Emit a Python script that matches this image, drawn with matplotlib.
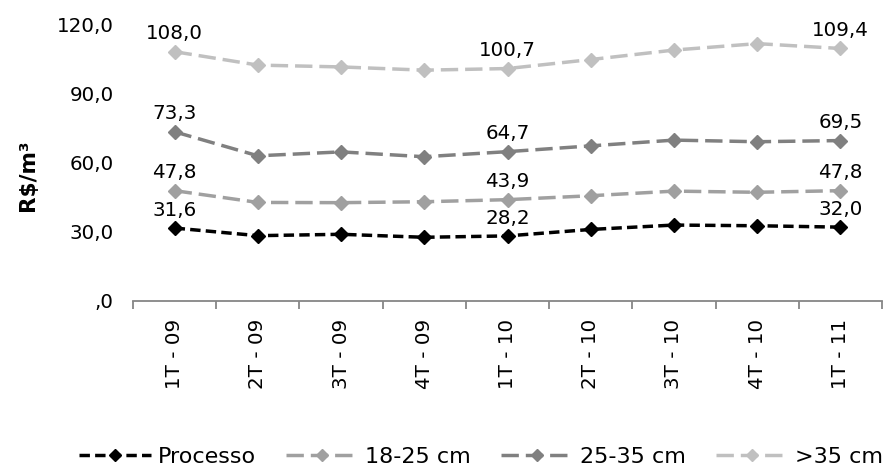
import matplotlib
matplotlib.use("Agg")
import matplotlib.pyplot as plt
from matplotlib.ticker import FuncFormatter

plt.rcParams['font.family'] = ['DejaVu Sans']

quarters = ["1T - 09", "2T - 09", "3T - 09", "4T - 09", "1T - 10",
            "2T - 10", "3T - 10", "4T - 10", "1T - 11"]
processo = [31.6, 28.3, 28.9, 27.6, 28.2, 31.0, 32.9, 32.6, 32.0]
cm_18_25 = [47.8, 42.7, 42.6, 43.0, 43.9, 45.6, 47.6, 47.1, 47.8]
cm_25_35 = [73.3, 62.9, 64.6, 62.5, 64.7, 67.2, 69.7, 69.0, 69.5]
cm_35 = [108.0, 102.2, 101.4, 100.0, 100.7, 104.6, 108.7, 111.5, 109.4]
series_names = ["Processo", "18-25 cm", "25-35 cm", ">35 cm"]
labelled_idx = [0, 4, 8]

series = [processo, cm_18_25, cm_25_35, cm_35]
colors = ["#000000", "#A0A0A0", "#808080", "#C0C0C0"]
dashes = [(3, 1.5), (5, 2.0), (5, 2.0), (5, 2.0)]

FS = 14.3
W, H = 884, 469
fig = plt.figure(figsize=(W / 100, H / 100), dpi=100)
ax = fig.add_axes([133 / W, 1 - 301 / H, (882 - 133) / W, (301 - 24) / H])

x = list(range(len(quarters)))
for vals, name, col, dsh in zip(series, series_names, colors, dashes):
    ax.plot(x, vals, color=col, linestyle=(0, dsh), linewidth=2.5,
            marker="D", markersize=7.5, markeredgecolor=col,
            markerfacecolor=col, label=name)
    for i in labelled_idx:
        ax.annotate(f"{vals[i]:.1f}".replace(".", ","), (i, vals[i]),
                    xytext=(0, 6), textcoords="offset points",
                    ha="center", va="bottom", fontsize=FS, color="#000000")

ax.set_xlim(-0.5, len(quarters) - 0.5)
ax.set_ylim(0, 120)
ax.set_yticks([0, 30, 60, 90, 120])
ax.yaxis.set_major_formatter(FuncFormatter(
    lambda v, p: ",0" if v == 0 else f"{v:.1f}".replace(".", ",")))
ax.tick_params(axis="y", length=0, pad=14, labelsize=FS)

ax.set_xticks(x)
ax.set_xticklabels(quarters, rotation=90, fontsize=FS)
ax.set_xticks([i - 0.5 for i in range(len(quarters) + 1)], minor=True)
ax.tick_params(axis="x", which="major", length=0, pad=13)
ax.tick_params(axis="x", which="minor", length=6, width=1.3, color="#868686")

for s in ["top", "right", "left"]:
    ax.spines[s].set_visible(False)
ax.spines["bottom"].set_color("#868686")
ax.spines["bottom"].set_linewidth(1.3)

fig.text(28 / W, 1 - 175 / H, "R$/m³", rotation=90, fontsize=15.5,
         fontweight="bold", ha="center", va="center")

leg = fig.legend(loc="center", bbox_to_anchor=(481 / W, 1 - 457 / H),
                 ncol=4, frameon=False, fontsize=16, handlelength=3.24,
                 handletextpad=0.32, columnspacing=1.35, markerscale=0.8)

fig.savefig("out.png", dpi=100)
